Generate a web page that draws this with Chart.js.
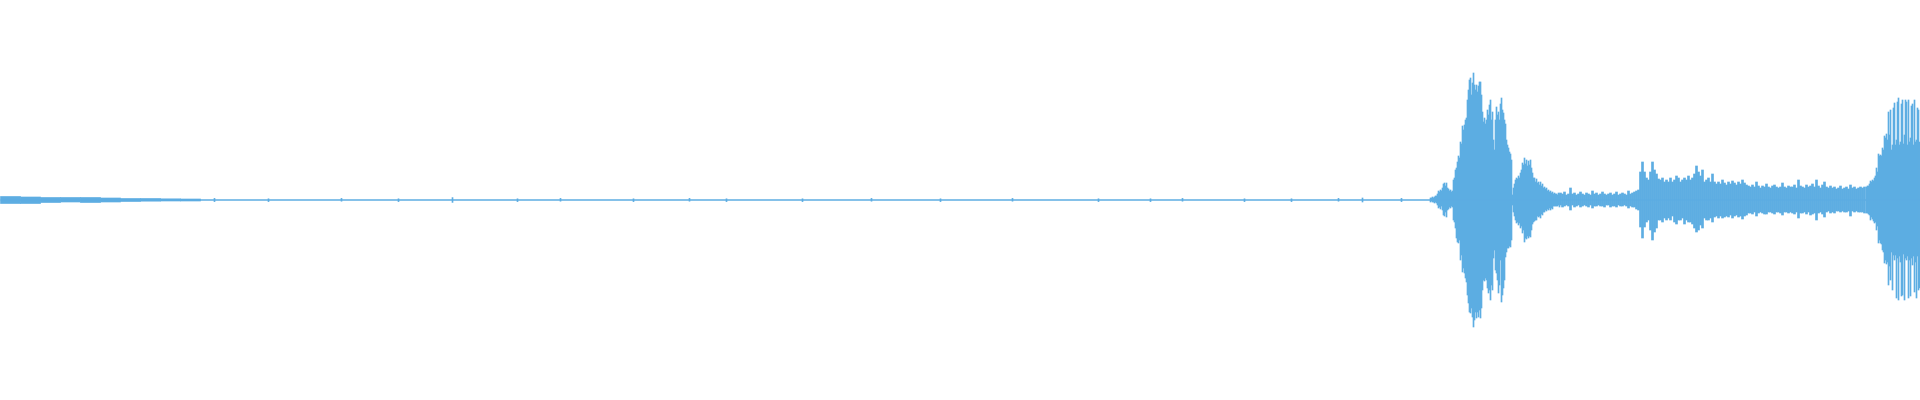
<!DOCTYPE html>
<html>
<head>
<meta charset="utf-8">
<title>Waveform</title>
<script src="https://cdn.jsdelivr.net/npm/chart.js@4.4.1/dist/chart.umd.min.js"></script>
<style>
    html, body { margin: 0; padding: 0; background: #ffffff; }
    #wrap { width: 1920px; height: 400px; }
</style>
</head>
<body>
<div id="wrap"><canvas id="onda"></canvas></div>
<script>
// Amplitudes em % da escala cheia (eixo de -100 a 100), tempo em bins
const TOTAL_BINS = 1920;

// trecho inicial, ruído baixo (blocos de 20 bins)
const inicioTempo = [10, 30, 50, 70, 90, 110, 130, 150, 170, 190];
const inicioPos   = [1.75, 1.5, 1.25, 1.25, 1.25, 1.0, 0.75, 0.75, 0.6, 0.5];
const inicioNeg   = [1.75, 1.75, 1.25, 1.0, 1.25, 1.0, 0.75, 0.6, 0.5, 0.5];

// pequenos picos isolados no trecho silencioso
const picosTempo = [214, 268, 341, 398, 452, 517, 560, 633, 689, 726, 802, 871, 940, 1012, 1098, 1150, 1182, 1244, 1291, 1338, 1362, 1401];
const picosPos   = [0.8, 0.6, 0.8, 0.6, 1.2, 0.6, 0.8, 0.6, 0.8, 0.6, 0.6, 0.8, 0.6, 0.8, 0.6, 0.6, 0.8, 0.6, 0.6, 0.8, 1.0, 0.8];
const picosNeg   = [0.8, 0.8, 0.6, 0.8, 1.2, 0.8, 0.6, 0.8, 0.6, 0.8, 0.8, 0.6, 0.8, 0.6, 0.8, 0.8, 0.6, 0.8, 0.8, 0.6, 1.0, 0.8];

// primeira rajada: bins 1430 a 1559, um valor por bin
const RAJADA1_INICIO = 1430;
const rajada1Pos = [
    1, 1, 1.5, 1, 1.5, 2, 2, 3, 4.5, 4,
    5, 4.5, 6, 8, 8.5, 7, 8.5, 6, 5.5, 4.5,
    5, 4, 4.5, 10, 11, 15, 16, 19, 22, 21,
    29, 28, 37, 35, 37.5, 40, 41, 50, 55, 60,
    61, 52.5, 58.5, 63.5, 57.5, 55, 57.5, 54, 57, 59,
    59, 52.5, 44, 39, 41, 38, 40, 45, 42.5, 47.5,
    50, 40, 44, 30, 25, 40, 46.5, 42.5, 44, 40,
    48, 51, 45, 43.5, 40, 38, 30, 27.5, 26, 24,
    23, 20, 2.5, 6, 8, 10, 11, 10.5, 12, 11,
    13.5, 15, 18.5, 17.5, 21, 18, 20, 17, 19.5, 17.5,
    20, 16, 13.5, 11, 11, 9, 10.5, 8.5, 9, 7.5,
    9, 7, 8, 6, 6.5, 5.5, 6, 4.5, 5, 4,
    4.5, 3.5, 4, 3, 3.5, 3, 3, 2.5, 3.5, 3
];
const rajada1Neg = [
    1, 0.5, 1, 1, 1.5, 1, 1.5, 2.5, 4, 3.5,
    4.5, 3, 5, 7.5, 8, 6, 8.5, 5, 4.5, 3.5,
    4, 3, 3.5, 10, 11, 14, 19, 21, 21.5, 20,
    30, 27.5, 36, 34, 36.5, 39, 41, 47.5, 51.5, 56,
    56.5, 54, 58.5, 63.5, 60, 56, 59, 56, 58.5, 55,
    59, 54, 45, 40, 40.5, 39, 40, 44, 46.5, 45,
    50, 42.5, 45, 29, 25, 35, 36.5, 40, 46.5, 42.5,
    30, 51, 47.5, 44, 40, 28.5, 26, 24, 24, 23,
    23.5, 20, 2.5, 6, 8, 10, 11.5, 11, 12.5, 11.5,
    14, 13, 16.5, 15, 21, 19, 19.5, 18, 19, 18,
    18.5, 15, 12, 11, 10.5, 10, 10, 8, 8.5, 8,
    9, 7, 7.5, 6, 6, 5, 5.5, 4.5, 5, 4,
    5, 4, 4.5, 3, 3, 3, 3, 3, 2.5, 3.5
];

// trecho do meio: bins 1560 a 1864, um valor a cada 2 bins
const MEIO_INICIO = 1560;
const MEIO_PASSO = 2;
const meioPos = [
    3.5, 3, 4, 2.5, 3, 6, 3, 3.5, 2.5, 3, 4, 3, 2.5, 3.5, 3, 2.5, 4.5, 3, 3.5, 2.5,
    3, 4, 3, 2.5, 3, 3.5, 2.5, 3, 4, 2.5, 3, 3.5, 3, 2.5, 4.5, 3, 3.5, 4, 4.5,
    5, 14, 19, 14, 11, 10, 14, 19, 15, 13, 10.5, 10, 11,
    9, 10, 9, 11, 9, 10, 12, 11, 9, 10, 11, 10, 12, 10, 11, 13, 17, 14, 12, 15,
    9, 10, 11, 9, 13, 9, 8, 9, 8, 10, 8.5, 7.5, 9, 8, 9.5, 8.5, 7.5, 9, 8, 10, 8.5, 7.5,
    7, 6.5, 7.5, 6.5, 9, 7, 6, 7, 6.5, 8, 6.5, 6, 7, 7.5, 6.5, 6, 6.5, 8.5, 6.5, 6, 7, 6.5,
    6.5, 7.5, 6, 10, 7, 6.5, 6, 7.5, 6.5, 7, 8, 6.5, 10, 7, 6, 7.5, 9, 6.5, 6, 7,
    6, 6.5, 5.5, 6, 7, 5.5, 6, 6.5, 5.5, 7.5, 6, 6.5, 5.5, 6, 6.5, 6, 6.5
];
const meioNeg = [
    2.5, 3.5, 3, 2.5, 3, 5, 2.5, 3.5, 3, 2.5, 3.5, 3, 2.5, 3, 3.5, 2.5, 4, 3, 3, 2.5,
    3, 3, 3.5, 2.5, 2.5, 3.5, 3, 3, 3.5, 2.5, 3, 3, 2.5, 3, 4, 3, 3.5, 3.5, 4.5,
    5, 13.5, 19, 13.5, 11, 10, 15, 20, 16, 14, 10, 10, 11,
    9, 10, 9, 10, 8, 11, 12, 10, 10, 9, 12, 10, 11, 11, 12, 14, 16, 15, 12.5, 14,
    9, 10, 10, 9, 11, 8.5, 8, 9, 8, 9, 8.5, 8, 8.5, 7.5, 9, 8, 7.5, 8.5, 8, 9.5, 8, 7.5,
    6.5, 6.5, 7, 6, 8, 6.5, 6, 6.5, 7, 7, 6, 6, 6.5, 7, 6, 6, 6.5, 7.5, 6, 6, 6.5, 6,
    6.5, 7, 6, 9, 6.5, 6.5, 6, 7, 6, 7.5, 7, 6.5, 10, 6.5, 6, 7, 8.5, 6, 5.5, 6.5,
    6, 6.5, 5.5, 5.5, 6, 5.5, 6, 6, 5.5, 8, 5.5, 6, 5.5, 6, 6, 6, 6.5
];

// segunda rajada (final): bins 1866 a 1919, um valor por bin
const RAJADA2_INICIO = 1866;
const rajada2Pos = [
    6.5, 7, 7, 8, 9.5, 9, 10, 9.5, 11, 12,
    16, 14, 23, 22, 22.5, 22, 26, 25, 32, 31,
    33, 30, 44, 32.5, 45, 25, 27.5, 46, 48.5, 27.5,
    30, 49, 51, 27.5, 29, 48, 50, 28, 32.5, 50,
    49, 27.5, 50, 29, 31, 47, 48, 27.5, 50, 29,
    30, 46, 45, 29
];
const rajada2Neg = [
    6.5, 6.5, 7, 7.5, 10, 8.5, 9.5, 10.5, 11.5, 11,
    15, 13, 21.5, 20, 21.5, 22, 25, 26, 31.5, 30,
    32, 31, 42.5, 33, 40, 26, 45, 27.5, 30, 27.5,
    49, 29, 50, 28, 31, 48, 47.5, 27, 50, 29,
    30, 28, 49, 30, 48, 29, 32.5, 28, 46, 31,
    49, 28, 45, 44
];

const corOnda = '#5dade2';

document.addEventListener('DOMContentLoaded', () => {
    const ctx = document.getElementById('onda').getContext('2d');

    // eixo de tempo de cada trecho (início + passo)
    const tempos = (inicio, passo, n) => Array.from({ length: n }, (_, i) => inicio + i * passo);

    // monta os pontos flutuantes [mínimo, máximo] de cada bin
    const montar = (ts, pos, neg) => ts.map((t, i) => ({ x: t, y: [-neg[i], pos[i]] }));

    const barraBase = {
        type: 'bar',
        backgroundColor: corOnda,
        borderWidth: 0,
        grouped: false,
        borderSkipped: false
    };

    new Chart(ctx, {
        data: {
            datasets: [
                {
                    type: 'line',
                    label: 'linha central',
                    data: [{ x: 0, y: 0 }, { x: TOTAL_BINS, y: 0 }],
                    borderColor: corOnda,
                    borderWidth: 1.3,
                    pointRadius: 0
                },
                { ...barraBase, label: 'início', data: montar(inicioTempo, inicioPos, inicioNeg), barThickness: 20 },
                { ...barraBase, label: 'picos', data: montar(picosTempo, picosPos, picosNeg), barThickness: 1 },
                { ...barraBase, label: 'rajada 1', barThickness: 1,
                  data: montar(tempos(RAJADA1_INICIO, 1, rajada1Pos.length), rajada1Pos, rajada1Neg) },
                { ...barraBase, label: 'meio', barThickness: 2,
                  data: montar(tempos(MEIO_INICIO, MEIO_PASSO, meioPos.length), meioPos, meioNeg) },
                { ...barraBase, label: 'rajada 2', barThickness: 1,
                  data: montar(tempos(RAJADA2_INICIO, 1, rajada2Pos.length), rajada2Pos, rajada2Neg) }
            ]
        },
        options: {
            responsive: true,
            maintainAspectRatio: false,
            animation: false,
            layout: { padding: 0 },
            plugins: {
                legend: { display: false },
                tooltip: { enabled: false }
            },
            scales: {
                x: { type: 'linear', display: false, min: -0.5, max: TOTAL_BINS - 0.5, offset: false },
                y: { display: false, min: -100, max: 100 }
            }
        }
    });
});
</script>
</body>
</html>
